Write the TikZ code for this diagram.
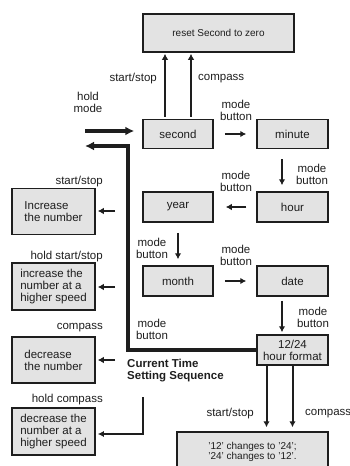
\documentclass[tikz,border=0pt]{standalone}
\usepackage{fontspec}
\setmainfont{Liberation Sans}
\usetikzlibrary{arrows.meta}
\definecolor{boxgray}{HTML}{E3E3E3}
\definecolor{ink}{HTML}{1E1E1E}
\tikzset{
  box/.style={draw=ink, line width=1.5pt, fill=boxgray, inner sep=0pt,
    minimum width=70pt, minimum height=29pt, align=center},
  sidebox/.style={box, minimum width=83pt, minimum height=46pt, align=left},
  arr/.style={draw=ink, line width=2pt, -{Latex[length=6pt,width=6.5pt]}},
  fatarr/.style={draw=ink, line width=3.2pt, -{Latex[length=9pt,width=9pt]}},
  thinarr/.style={draw=ink, line width=1.3pt, -{Latex[length=6pt,width=6pt]}},
  lbl/.style={align=center, inner sep=0pt},
}
\begin{document}
\begin{tikzpicture}[x=1pt, y=-1pt, font=\fontsize{11.5}{12}\selectfont, text=ink]
\useasboundingbox (0,0) rectangle (350,466);

% setting sequence
\node[box, minimum width=151pt, minimum height=38pt, font=\fontsize{10}{11}\selectfont] (reset) at (218.5,33) {reset Second to zero};
\node[box] (second) at (178,134) {second};
\node[box, minimum width=71pt] (minute) at (292.5,134) {minute};
\node[box, minimum width=71pt, minimum height=30pt] (hour) at (292.5,207) {hour};
\node[box, minimum height=30pt] (year) at (178,207) {year};
\node[box, minimum height=30pt] (month) at (178,281) {month};
\node[box, minimum width=71pt, minimum height=30pt] (date) at (292.5,281) {date};
\node[box, minimum width=71pt, minimum height=30pt] (fmt) at (292.5,350) {12/24\\hour format};
\node[box, minimum width=151pt, minimum height=40pt, font=\fontsize{10}{10.5}\selectfont] (change) at (252.5,452) {'12' changes to '24';\\'24' changes to '12'.};

% what the buttons do
\node[sidebox] (inc) at (53.5,211.5) {Increase\\the number};
\node[sidebox, minimum height=47pt] (incfast) at (53.5,286.5) {increase the\\number at a\\higher speed};
\node[sidebox] (dec) at (53.5,360) {decrease\\the number};
\node[sidebox, minimum height=47pt] (decfast) at (53.5,431.5) {decrease the\\number at a\\higher speed};

% second -> reset
\draw[arr, shorten <=2pt, shorten >=1pt] ([xshift=-13pt]second.north) -- ([xshift=-13pt]second.north |- reset.south);
\draw[arr, shorten <=2pt, shorten >=1pt] ([xshift=13pt]second.north) -- ([xshift=13pt]second.north |- reset.south);
\node[lbl, anchor=east] (lstart) at (157,79) {start/stop};
\node[lbl, anchor=west] (lcomp) at (198,79) {compass};

% hold mode in and back out
\node[lbl] (lhold) at (88,102) {hold\\mode};
\coordinate (holdin) at (85,131);
\draw[fatarr, shorten >=8pt] (holdin) -- (holdin -| second.west);
\coordinate (bend) at (128,146);
\coordinate (back) at (85,146);
\draw[fatarr] (fmt.west) -| (bend) -- (back);
\node[lbl] (mback) at (152,329) {mode\\button};
\node[lbl, anchor=west, align=left, font=\fontsize{11.5}{12}\bfseries] (seq) at (127,371) {Current Time\\Setting Sequence};

% mode button steps
\draw[arr, shorten <=11pt, shorten >=10pt] (second) -- (minute);
\node[lbl] (m1) at (236,110) {mode\\button};
\draw[arr, shorten <=10pt, shorten >=6pt] ([xshift=-10.5pt]minute.south) -- ([xshift=-10.5pt]hour.north);
\node[lbl] (m2) at (312,174) {mode\\button};
\draw[arr, shorten <=10pt, shorten >=12pt] (hour) -- (year);
\node[lbl] (m3) at (236,181) {mode\\button};
\draw[arr, shorten <=10pt, shorten >=6pt] (year) -- (month);
\node[lbl] (m4) at (152,248) {mode\\button};
\draw[arr, shorten <=11pt, shorten >=10pt] (month) -- (date);
\node[lbl] (m5) at (236,255) {mode\\button};
\draw[arr, shorten <=4pt, shorten >=2pt] ([xshift=-10.5pt]date.south) -- ([xshift=-10.5pt]fmt.north);
\node[lbl] (m6) at (313,317) {mode\\button};

% 12/24 format
\draw[arr, shorten >=4pt] ([xshift=-26pt]fmt.south) -- ([xshift=-26pt]fmt.south |- change.north);
\draw[arr, shorten >=4pt] (fmt.south) -- (fmt.south |- change.north);
\node[lbl, anchor=east] (lstart2) at (254,414) {start/stop};
\node[lbl, anchor=west] (lcomp2) at (305,414) {compass};

% side keys
\node[lbl, anchor=east] (kinc) at (103,182) {start/stop};
\node[lbl, anchor=east] (kincf) at (103,257) {hold start/stop};
\node[lbl, anchor=east] (kdec) at (103,328) {compass};
\node[lbl, anchor=east] (kdecf) at (103,400) {hold compass};
\coordinate (tinc) at (115,211);
\coordinate (tincf) at (115,287);
\coordinate (tdec) at (115,360);
\coordinate (tdecf) at (143,397);
\draw[arr, shorten >=2pt] (tinc) -- (tinc -| inc.east);
\draw[arr, shorten >=2pt] (tincf) -- (tincf -| incfast.east);
\draw[arr, shorten >=2pt] (tdec) -- (tdec -| dec.east);
\draw[thinarr, shorten >=2pt] (tdecf) |- ([yshift=-2.5pt]decfast.east);
\end{tikzpicture}
\end{document}
